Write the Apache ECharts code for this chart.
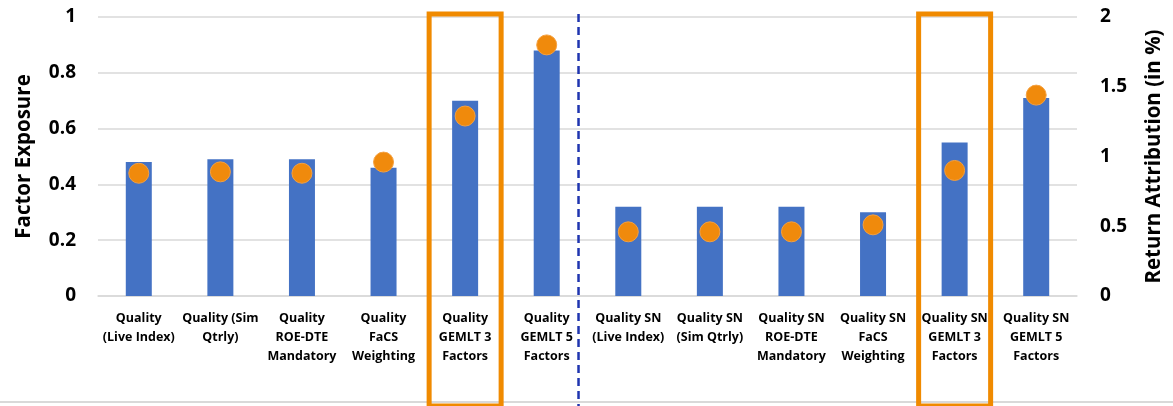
<!DOCTYPE html>
<html>
<head>
<meta charset="utf-8">
<script src="https://cdn.jsdelivr.net/npm/echarts@6/dist/echarts.min.js"></script>
<style>
html,body{margin:0;padding:0;background:#fff;}
#c{width:1173px;height:406px;}
</style>
</head>
<body>
<div id="c"></div>
<script>
const categories = [
  "Quality\n(Live Index)", "Quality (Sim\nQtrly)", "Quality\nROE-DTE\nMandatory", "Quality\nFaCS\nWeighting",
  "Quality\nGEMLT 3\nFactors", "Quality\nGEMLT 5\nFactors",
  "Quality SN\n(Live Index)", "Quality SN\n(Sim Qtrly)", "Quality SN\nROE-DTE\nMandatory", "Quality SN\nFaCS\nWeighting",
  "Quality SN\nGEMLT 3\nFactors", "Quality SN\nGEMLT 5\nFactors"
];
const factorExposure = [0.48, 0.49, 0.49, 0.46, 0.70, 0.88, 0.32, 0.32, 0.32, 0.30, 0.55, 0.71];
const returnAttribution = [0.88, 0.89, 0.88, 0.96, 1.29, 1.80, 0.46, 0.46, 0.46, 0.51, 0.90, 1.44];
const highlighted = [4, 10];
const dividerAfter = 5;

const FONT = "'Open Sans', sans-serif";
const chart = echarts.init(document.getElementById('c'), null, {renderer: 'canvas'});
const option = {
  animation: false,
  grid: {left: 98, right: 93, top: 17, bottom: 110},
  xAxis: {
    type: 'category',
    data: categories,
    axisTick: {show: false},
    axisLine: {lineStyle: {color: '#d9d9d9', width: 1.5}},
    axisLabel: {interval: 0, fontFamily: FONT, fontWeight: 'bold', fontSize: 12.5, color: '#000', lineHeight: 19, margin: 13}
  },
  yAxis: [
    {
      type: 'value', min: 0, max: 1, interval: 0.2,
      name: 'Factor Exposure', nameLocation: 'middle', nameGap: 63, nameRotate: 90,
      nameTextStyle: {fontFamily: FONT, fontWeight: 'bold', fontSize: 20.5, color: '#000'},
      axisLine: {show: false}, axisTick: {show: false},
      axisLabel: {fontFamily: FONT, fontWeight: 'bold', fontSize: 19, color: '#000', margin: 22},
      splitLine: {lineStyle: {color: '#d9d9d9', width: 1.5}}
    },
    {
      type: 'value', min: 0, max: 2, interval: 0.5,
      name: 'Return Attribution (in %)', nameLocation: 'middle', nameGap: 67, nameRotate: 90,
      nameTextStyle: {fontFamily: FONT, fontWeight: 'bold', fontSize: 20.5, color: '#000'},
      axisLine: {show: false}, axisTick: {show: false},
      axisLabel: {fontFamily: FONT, fontWeight: 'bold', fontSize: 19, color: '#000', margin: 23},
      splitLine: {show: false}
    }
  ],
  series: [
    {
      type: 'bar', yAxisIndex: 0, data: factorExposure, barWidth: 26,
      itemStyle: {color: '#4472C4'}
    },
    {
      type: 'scatter', yAxisIndex: 1, data: returnAttribution, symbolSize: 20,
      itemStyle: {color: '#F08A0C', borderColor: '#F4A040', borderWidth: 1, opacity: 1}
    }
  ]
};
chart.setOption(option);

function overlay() {
  const step = chart.convertToPixel({xAxisIndex: 0}, 1) - chart.convertToPixel({xAxisIndex: 0}, 0);
  const graphics = [];
  highlighted.forEach(function (i) {
    const cx = chart.convertToPixel({xAxisIndex: 0}, i);
    graphics.push({
      type: 'rect', z: 100,
      shape: {x: cx - 36, y: 14, width: 72, height: 392},
      style: {fill: 'none', stroke: '#F08A00', lineWidth: 5}
    });
  });
  const dx = chart.convertToPixel({xAxisIndex: 0}, dividerAfter) + step * 0.39;
  graphics.push({
    type: 'line', z: 100,
    shape: {x1: dx, y1: 14, x2: dx, y2: 406},
    style: {stroke: '#1F35B0', lineWidth: 2.5, lineDash: [8, 5]}
  });
  graphics.push({
    type: 'line', z: 90,
    shape: {x1: 0, y1: 402, x2: 1173, y2: 402},
    style: {stroke: '#d9d9d9', lineWidth: 2}
  });
  chart.setOption({graphic: graphics});
}
overlay();
</script>
</body>
</html>
